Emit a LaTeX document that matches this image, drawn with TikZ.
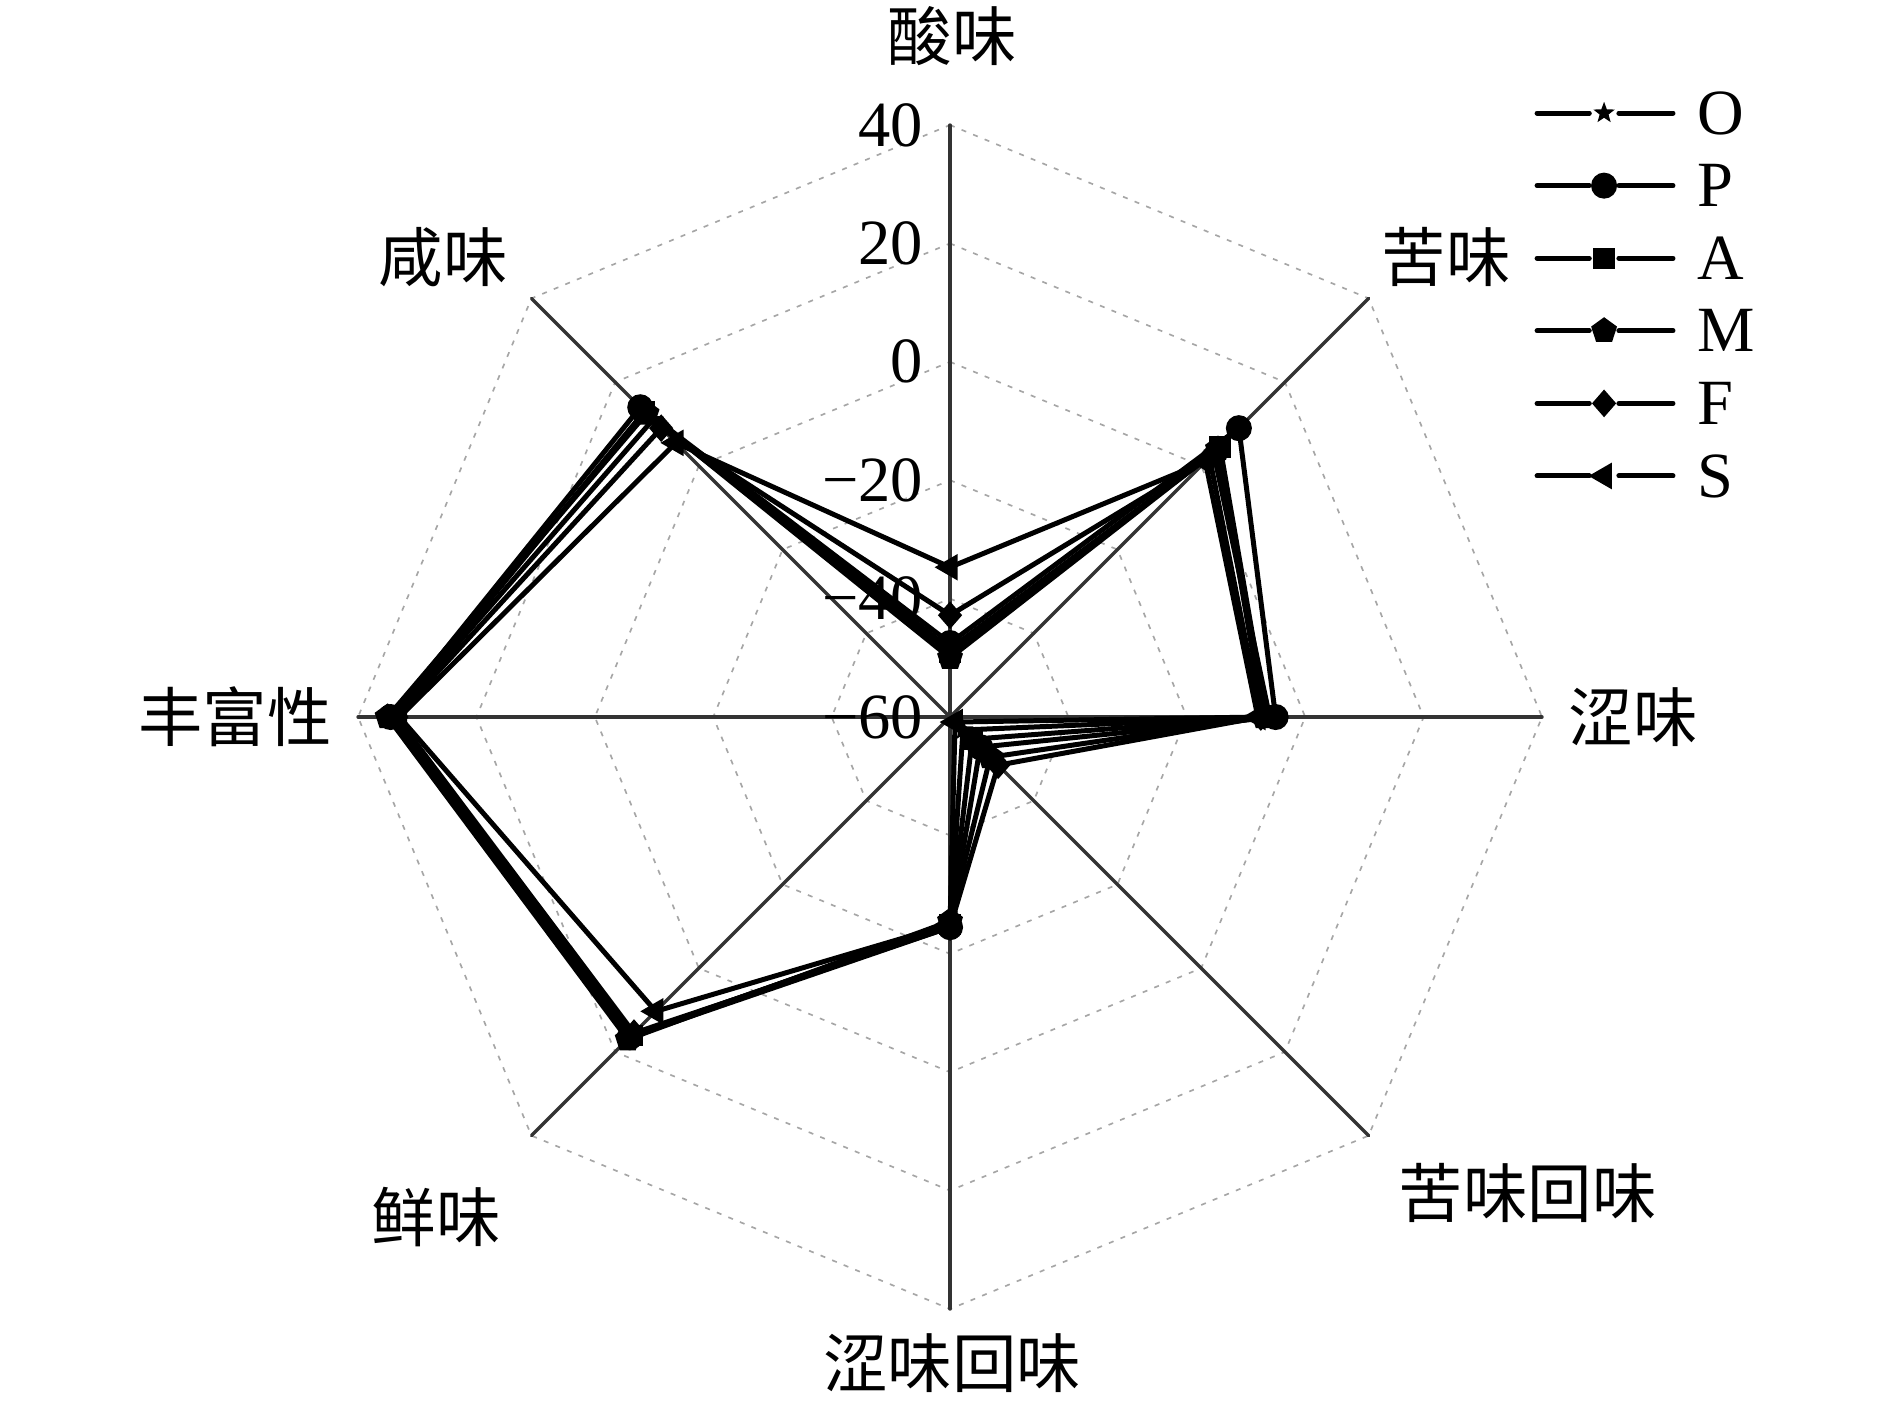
\documentclass[tikz,border=0pt]{standalone}
\usepackage{fontspec}
\setmainfont{Liberation Serif}
\newfontfamily\cjk{Noto Sans CJK SC}
\usetikzlibrary{shapes.geometric}
\tikzset{
  ringline/.style={gray!70, line width=0.4pt, line cap=butt, dash pattern=on 1.2pt off 1.8pt},
  spoke/.style={black!80, line width=0.8pt},
  series/.style={black, line width=1.2pt},
  mkO/.style={star, star points=5, star point ratio=2.4, fill, inner sep=0pt, minimum size=0.19cm},
  mkP/.style={circle, fill, inner sep=0pt, minimum size=0.22cm},
  mkA/.style={rectangle, fill, inner sep=0pt, minimum size=0.18cm},
  mkM/.style={regular polygon, regular polygon sides=5, fill, inner sep=0pt, minimum size=0.23cm},
  mkF/.style={diamond, fill, inner sep=0pt, minimum width=0.21cm, minimum height=0.24cm},
  mkS/.style={regular polygon, regular polygon sides=3, shape border rotate=90, fill, inner sep=0pt, minimum size=0.26cm}
}
\begin{document}
\begin{tikzpicture}[line join=round, line cap=round, font=\fontsize{15.5}{18}\selectfont]
\useasboundingbox (-8.024,-5.870) rectangle (7.939,6.056);
\coordinate (C) at (0,0);
\foreach \k in {1,...,5}
  \draw[ringline] (90:\k) \foreach \a in {45,0,...,-225}{ -- (\a:\k)} -- cycle;
\foreach \i/\a in {1/90,2/45,3/0,4/-45,5/-90,6/-135,7/180,8/135}
  \draw[spoke] (C) -- (\a:5) coordinate (ax\i);
\foreach \k/\t in {0/−60,1/−40,2/−20,3/0,4/20,5/40}
  \node[anchor=east, inner sep=0pt] (tick\k) at (-0.22,\k) {\t};
\path
  (0.02,5.75) node (suan) {\cjk 酸味}
  (4.19,3.885) node (ku) {\cjk 苦味}
  (5.77,0) node (se) {\cjk 涩味}
  (4.88,-4.02) node (kuhui) {\cjk 苦味回味}
  (0.02,-5.46) node (sehui) {\cjk 涩味回味}
  (-4.34,-4.22) node (xian) {\cjk 鲜味}
  (-6.04,0) node (feng) {\cjk 丰富性}
  (-4.28,3.885) node (xianw) {\cjk 咸味};
\foreach \s/\m/\vals in {
  O/mkO/{-48.5,3,-6,-56.9,-25,16,34,11},
  P/mkP/{-47.5,9,-5,-52.8,-24.5,16.5,34.5,14},
  A/mkA/{-49,4.5,-6.5,-54.7,-25,16,34,13},
  M/mkM/{-50,4,-7,-50.4,-25.5,17,35,12.5},
  F/mkF/{-42.8,2,-7.5,-48.5,-24.5,15.5,33.5,9},
  S/mkS/{-34.7,1,-8,-58.8,-25,10.3,33,5.5}}{
  \foreach \v [count=\i] in \vals
    \coordinate (\s\i) at ({135-45*\i}:{(\v+60)/20});
  \draw[series] (\s1) \foreach \i in {2,...,8}{ -- (\s\i)} -- cycle;
  \foreach \i in {1,...,8}
    \node[\m] (m\s\i) at (\s\i) {};
}
\foreach \s/\m [count=\j from 0] in {O/mkO,P/mkP,A/mkA,M/mkM,F/mkF,S/mkS}{
  \coordinate (a\s) at (4.958,{5.101-0.613*\j});
  \node[circle, inner sep=0pt, minimum size=0.236cm] (g\s) at (5.524,{5.101-0.613*\j}) {};
  \coordinate (b\s) at (6.106,{5.101-0.613*\j});
  \draw[series] (a\s) -- (g\s) -- (b\s);
  \node[\m] (k\s) at (g\s) {};
  \node[anchor=west, inner sep=0pt] (t\s) at (6.309,{5.101-0.613*\j}) {\s};
}
\end{tikzpicture}
\end{document}
